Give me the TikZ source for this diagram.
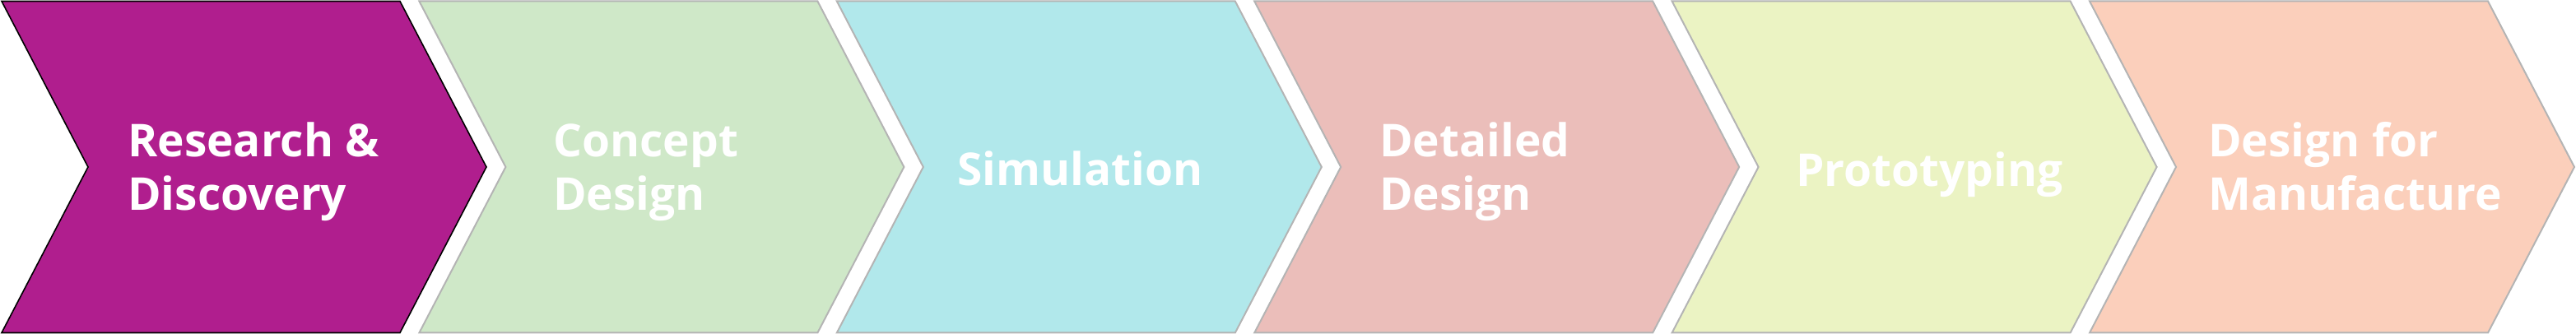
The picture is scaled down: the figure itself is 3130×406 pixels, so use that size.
\documentclass[tikz,border=0pt]{standalone}
\usepackage{fontspec}
\setmainfont{Open Sans}
\definecolor{cA}{RGB}{176,30,142}
\definecolor{cB}{RGB}{207,232,200}
\definecolor{cC}{RGB}{177,232,235}
\definecolor{cD}{RGB}{235,190,186}
\definecolor{cE}{RGB}{235,243,195}
\definecolor{cF}{RGB}{251,207,187}
\definecolor{edgegray}{RGB}{180,180,180}
\begin{document}
\begin{tikzpicture}[x=1pt,y=1pt,
  chev/.style={draw=edgegray, line width=2pt, line join=miter},
  lbl/.style={font=\fontsize{55}{65}\selectfont\bfseries, text=white, align=left, inner sep=0pt, anchor=base west}]
\useasboundingbox (0,0) rectangle (3130,406);
\foreach \i/\c in {1/cB,2/cC,3/cD,4/cE,5/cF}{
  \pgfmathsetmacro\L{2+507.4*\i}
  \filldraw[chev, fill=\c] (\L,404.5) coordinate (tl\i) -- ++(484,0) -- ++(105,-201.5) coordinate (tip\i) -- ++(-105,-201.5) -- ++(-484,0) -- ++(105,201.5) -- cycle;
}
\filldraw[chev, draw=black, line width=1.6pt, fill=cA] (2,404.5) coordinate (tl0) -- ++(484,0) -- ++(105,-201.5) coordinate (tip0) -- ++(-105,-201.5) -- ++(-484,0) -- ++(105,201.5) -- cycle;
\node[lbl] (t1) at (155,150) {Research \&\\Discovery};
\node[lbl] (t2) at (672,150) {Concept\\Design};
\node[lbl] (t3) at (1163,180) {Simulation};
\node[lbl] (t4) at (1676,150) {Detailed\\Design};
\node[lbl] (t5) at (2182,179) {Prototyping};
\node[lbl] (t6) at (2683,150) {Design for\\Manufacture};
\end{tikzpicture}
\end{document}
